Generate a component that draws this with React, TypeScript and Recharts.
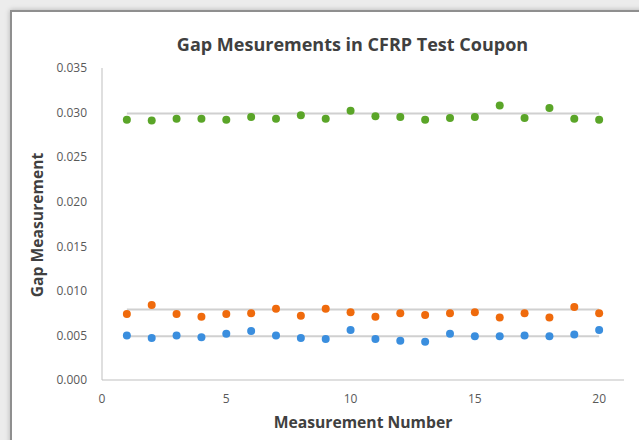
import React from 'react';
import { ComposedChart, Line, Scatter, XAxis, YAxis } from 'recharts';

// measurement index 1..20
const measurements = [1, 2, 3, 4, 5, 6, 7, 8, 9, 10, 11, 12, 13, 14, 15, 16, 17, 18, 19, 20];

const greenGap = [0.0292, 0.0291, 0.0293, 0.0293, 0.0292, 0.0295, 0.0293, 0.0297, 0.0293, 0.0302, 0.0296, 0.0295, 0.0292, 0.0294, 0.0295, 0.0308, 0.0294, 0.0305, 0.0293, 0.0292];
const orangeGap = [0.0074, 0.0084, 0.0074, 0.0071, 0.0074, 0.0075, 0.008, 0.0072, 0.008, 0.0076, 0.0071, 0.0075, 0.0073, 0.0075, 0.0076, 0.007, 0.0075, 0.007, 0.0082, 0.0075];
const blueGap = [0.005, 0.0047, 0.005, 0.0048, 0.0052, 0.0055, 0.005, 0.0047, 0.0046, 0.0056, 0.0046, 0.0044, 0.0043, 0.0052, 0.0049, 0.0049, 0.005, 0.0049, 0.0051, 0.0056];

// nominal gap lines drawn from first to last measurement
const nominalGreen = 0.0299;
const nominalOrange = 0.0079;
const nominalBlue = 0.0049;

const xTicks = [0, 5, 10, 15, 20];
const yTicks = [0, 0.005, 0.01, 0.015, 0.02, 0.025, 0.03, 0.035];

const toPoints = (vals: number[]) => vals.map((y, i) => ({ x: measurements[i], y }));
const toLine = (y: number) => [
  { x: measurements[0], y },
  { x: measurements[measurements.length - 1], y },
];

const FONT = '"Open Sans", "Noto Sans", sans-serif';

const dot = (fill: string) => (props: any) => (
  <circle cx={props.cx} cy={props.cy} r={4} fill={fill} />
);

export default function App() {
  const tick = { fontSize: 12, fill: '#595959', fontFamily: FONT };
  return (
    <div
      style={{
        position: 'absolute',
        left: 0,
        top: 0,
        width: 639,
        height: 440,
        overflow: 'hidden',
        background: '#ececec',
        fontFamily: FONT,
      }}
    >
      <div
        style={{
          position: 'absolute',
          left: 10,
          top: 10,
          width: 660,
          height: 460,
          background: '#fff',
          borderLeft: '2px solid #8f8f8f',
          borderTop: '2px solid #8f8f8f',
          boxShadow: '0 0 5px rgba(0,0,0,0.25)',
        }}
      />
      <div
        style={{
          position: 'absolute',
          left: 0,
          width: 705,
          top: 32,
          textAlign: 'center',
          fontSize: 18,
          fontWeight: 700,
          color: '#404040',
        }}
      >
        Gap Mesurements in CFRP Test Coupon
      </div>
      <div
        style={{
          position: 'absolute',
          left: 102,
          width: 522,
          top: 411,
          textAlign: 'center',
          fontSize: 15.7,
          fontWeight: 700,
          color: '#404040',
        }}
      >
        Measurement Number
      </div>
      <div
        style={{
          position: 'absolute',
          left: 37,
          top: 225,
          transform: 'translate(-50%, -50%) rotate(-90deg)',
          whiteSpace: 'nowrap',
          fontSize: 15.7,
          fontWeight: 700,
          color: '#404040',
        }}
      >
        Gap Measurement
      </div>
      <div style={{ position: 'absolute', left: 0, top: 0 }}>
        <ComposedChart
          width={639}
          height={440}
          margin={{ top: 68, right: 15, bottom: 0, left: 0 }}
        >
          <XAxis
            type="number"
            dataKey="x"
            domain={[0, 21]}
            ticks={xTicks}
            allowDataOverflow
            tick={tick}
            tickLine={false}
            tickMargin={8}
            stroke="#bfbfbf"
            height={60}
          />
          <YAxis
            type="number"
            dataKey="y"
            domain={[0, 0.035]}
            ticks={yTicks}
            tickFormatter={(v: number) => v.toFixed(3)}
            tick={tick}
            tickLine={false}
            tickMargin={9}
            stroke="#bfbfbf"
            width={102}
          />
          <Line data={toLine(nominalGreen)} dataKey="y" stroke="#d0d0d0" strokeWidth={2} dot={false} isAnimationActive={false} />
          <Line data={toLine(nominalOrange)} dataKey="y" stroke="#d0d0d0" strokeWidth={2} dot={false} isAnimationActive={false} />
          <Line data={toLine(nominalBlue)} dataKey="y" stroke="#d0d0d0" strokeWidth={2} dot={false} isAnimationActive={false} />
          <Scatter data={toPoints(greenGap)} dataKey="y" shape={dot('#5aa528')} isAnimationActive={false} />
          <Scatter data={toPoints(orangeGap)} dataKey="y" shape={dot('#ef6a0c')} isAnimationActive={false} />
          <Scatter data={toPoints(blueGap)} dataKey="y" shape={dot('#3a8ede')} isAnimationActive={false} />
        </ComposedChart>
      </div>
    </div>
  );
}
